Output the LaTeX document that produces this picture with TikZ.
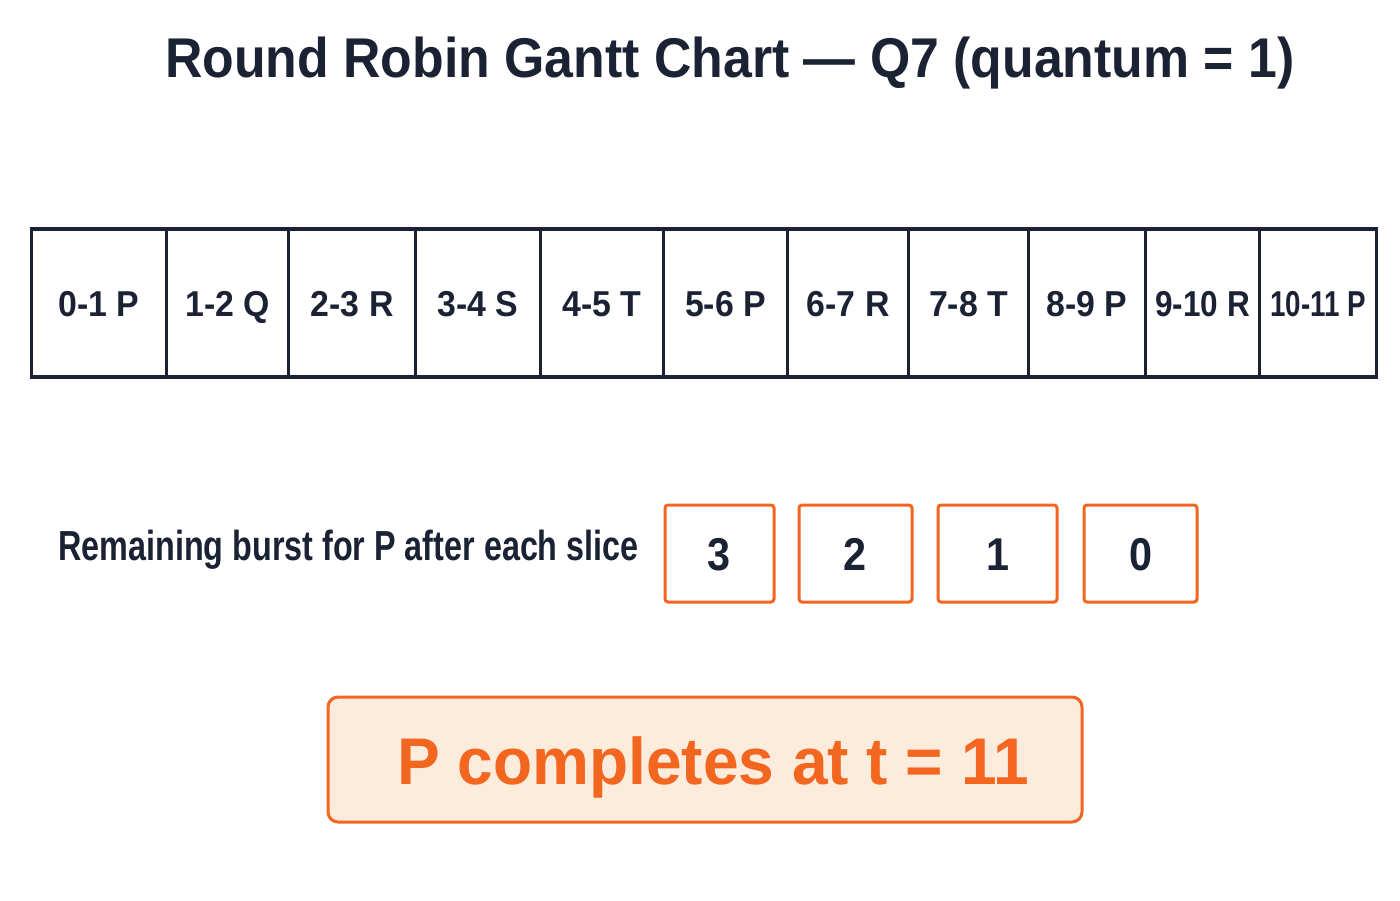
\documentclass[tikz,border=0pt]{standalone}
\usepackage{fontspec}
\setmainfont{Liberation Sans}
\newfontfamily\titlefont[FakeStretch=0.925]{Liberation Sans}
\newfontfamily\cellfont[FakeStretch=0.94]{Liberation Sans}
\newfontfamily\labfont[FakeStretch=0.77]{Liberation Sans}
\newfontfamily\donefont[FakeStretch=0.97]{Liberation Sans}
\newfontfamily\digitfont[FakeStretch=0.9]{Liberation Sans}
\definecolor{ink}{HTML}{1A2233}
\definecolor{orng}{HTML}{F2661F}
\definecolor{peach}{HTML}{FDEBDC}
\tikzset{
  cell/.style={draw=ink, line width=3.2pt, rectangle, minimum height=148pt, inner sep=0pt,
    text height=26pt, text depth=0pt, text=ink, font=\cellfont\bfseries\fontsize{36}{40}\selectfont},
  burst/.style={draw=orng, line width=3pt, rounded corners=3pt, rectangle, minimum height=97pt,
    inner sep=0pt, text height=33pt, text depth=0pt, text=ink, font=\digitfont\bfseries\fontsize{46}{50}\selectfont},
  donebox/.style={draw=orng, fill=peach, line width=3pt, rounded corners=10pt, rectangle,
    minimum width=754pt, minimum height=125pt, inner sep=0pt},
}
\begin{document}
\begin{tikzpicture}[x=1pt,y=-1pt]
\useasboundingbox (0,0) rectangle (1400,900);
\fill[white] (0,0) rectangle (1400,900);

\node[anchor=base west, inner sep=0pt, text=ink, font=\titlefont\bfseries\fontsize{56}{60}\selectfont] (title) at (165,77)
  {Round Robin Gantt Chart — Q7 (quantum = 1)};

\foreach \x/\w/\t/\s/\n in {
  30/135/0-1 P/1/c1,
  165/122/1-2 Q/1/c2,
  287/127/2-3 R/1/c3,
  414/125/3-4 S/1/c4,
  539/123/4-5 T/1/c5,
  662/124/5-6 P/1/c6,
  786/121/6-7 R/1/c7,
  907/120/7-8 T/1/c8,
  1027/117/8-9 P/1/c9,
  1144/114/9-10 R/0.93/c10,
  1258/117/10-11 P/0.82/c11}{
  \node[cell, minimum width=\w pt, anchor=west] (\n) at (\x,303) {\scalebox{\s}[1]{\t}};
}

\node[anchor=base west, inner sep=0pt, text=ink, font=\labfont\bfseries\fontsize{42}{46}\selectfont] (lab) at (58,560)
  {Remaining burst for P after each slice};

\node[burst, minimum width=109pt] (b1) at (719.5,553.5) {3};
\node[burst, minimum width=113pt] (b2) at (855.5,553.5) {2};
\node[burst, minimum width=119pt] (b3) at (997.5,553.5) {1};
\node[burst, minimum width=113pt] (b4) at (1140.5,553.5) {0};

\node[donebox] (done) at (705,759.5) {};
\node[anchor=base, inner sep=0pt, text=orng, font=\donefont\bfseries\fontsize{66}{70}\selectfont] (donetext) at (713,784)
  {P completes at t = 11};
\end{tikzpicture}
\end{document}
